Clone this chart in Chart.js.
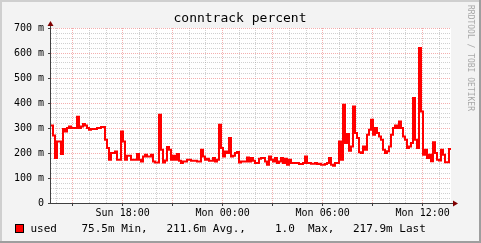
<!DOCTYPE html>
<html>
<head>
<meta charset="utf-8">
<title>conntrack percent</title>
<script src="https://cdn.jsdelivr.net/npm/chart.js@4.4.1/dist/chart.umd.min.js"></script>
<style>
    html, body { margin: 0; padding: 0; background: #f3f3f3; }
    canvas { display: block; }
</style>
</head>
<body>
<canvas id="rrdChart" width="481" height="243"></canvas>
<script>
// conntrack usage (in milli-units), one sample every 0.12 h
const startHour = 13.7;   // hours since Sun 00:00
const stepHours = 0.12;
const used = [
    310, 270, 180, 246, 246, 196, 296, 286, 300, 306,
    300, 300, 300, 345, 300, 306, 316, 310, 300, 293,
    296, 296, 296, 300, 300, 304, 304, 253, 220, 173,
    200, 200, 206, 173, 173, 286, 246, 173, 189, 189,
    173, 173, 173, 196, 173, 166, 186, 193, 186, 186,
    193, 166, 162, 162, 353, 213, 162, 170, 224, 213,
    173, 189, 173, 196, 169, 160, 166, 166, 173, 173,
    169, 169, 169, 166, 166, 213, 186, 173, 177, 169,
    169, 180, 166, 173, 313, 220, 186, 206, 200, 260,
    186, 189, 200, 204, 162, 166, 166, 166, 182, 166,
    180, 169, 160, 160, 177, 180, 180, 166, 153, 186,
    173, 166, 180, 160, 166, 180, 160, 177, 153, 173,
    160, 160, 160, 160, 156, 156, 160, 186, 160, 160,
    157, 157, 160, 156, 157, 153, 153, 156, 160, 180,
    153, 149, 160, 160, 246, 173, 393, 240, 276, 209,
    226, 386, 280, 260, 203, 200, 226, 213, 273, 293,
    333, 273, 300, 280, 266, 253, 213, 200, 207, 226,
    273, 300, 310, 300, 326, 300, 266, 253, 220, 226,
    240, 420, 253, 220, 620, 366, 193, 213, 180, 193,
    167, 243, 200, 173, 170, 213, 193, 163, 163, 216
];

const xTickHours = [18, 24, 30, 36];
const xTickLabels = ['Sun 18:00', 'Mon 00:00', 'Mon 06:00', 'Mon 12:00'];
const yMax = 700;
const yMinorStep = 20;
const yMajorStep = 100;

const legendLabel = 'used';
const legendStats = ['75.5m Min,', '211.6m Avg.,', '1.0', 'Max,', '217.9m Last'];

const MONO = '"DejaVu Sans Mono", monospace';
const MAJOR_GRID = 'rgba(235, 110, 110, 0.55)';
const MINOR_GRID = 'rgba(150, 150, 150, 0.45)';
const AXIS = '#404040';
const ARROW = '#800000';

const endHour = startHour + used.length * stepHours;
const points = used.map((v, i) => ({ x: startHour + i * stepHours, y: v }));
points.push({ x: endHour, y: used[used.length - 1] });

const xGridHours = [];
for (let h = Math.ceil(startHour); h < endHour; h++) xGridHours.push(h);
const yGridValues = [];
for (let v = 0; v <= yMax; v += yMinorStep) yGridValues.push(v);

// rrdtool look: frame, white canvas, arrows, title, legend, watermark
const rrdFrame = {
    id: 'rrdFrame',
    beforeDraw(chart) {
        const { ctx, width, height, chartArea: a } = chart;
        ctx.save();
        ctx.fillStyle = '#f3f3f3';
        ctx.fillRect(0, 0, width, height);
        ctx.fillStyle = '#cfcfcf';
        ctx.fillRect(0, 0, width, 2);
        ctx.fillRect(0, 0, 2, height);
        ctx.fillStyle = '#9e9e9e';
        ctx.fillRect(0, height - 2, width, 2);
        ctx.fillRect(width - 2, 0, 2, height);
        ctx.fillStyle = '#ffffff';
        ctx.fillRect(a.left, a.top, a.right - a.left, a.bottom - a.top);
        ctx.restore();
    },
    afterDraw(chart) {
        const { ctx, chartArea: a } = chart;
        ctx.save();

        // axes
        ctx.strokeStyle = AXIS;
        ctx.lineWidth = 1;
        ctx.beginPath();
        ctx.moveTo(a.left - 0.5, a.bottom + 0.5);
        ctx.lineTo(a.right + 3, a.bottom + 0.5);
        ctx.moveTo(a.left - 0.5, a.bottom + 0.5);
        ctx.lineTo(a.left - 0.5, a.top - 3);
        ctx.stroke();

        // arrows
        ctx.fillStyle = ARROW;
        ctx.beginPath();
        ctx.moveTo(a.right + 2, a.bottom - 2.5);
        ctx.lineTo(a.right + 7, a.bottom + 0.5);
        ctx.lineTo(a.right + 2, a.bottom + 3.5);
        ctx.closePath();
        ctx.fill();
        ctx.beginPath();
        ctx.moveTo(a.left - 3.5, a.top - 2);
        ctx.lineTo(a.left - 0.5, a.top - 7);
        ctx.lineTo(a.left + 2.5, a.top - 2);
        ctx.closePath();
        ctx.fill();

        // title
        ctx.fillStyle = '#000';
        ctx.font = '13px ' + MONO;
        ctx.textAlign = 'center';
        ctx.textBaseline = 'middle';
        ctx.fillText('conntrack percent', 240, 19);

        // legend
        ctx.fillStyle = '#ff0000';
        ctx.fillRect(15, 224, 9, 9);
        ctx.strokeStyle = '#000';
        ctx.strokeRect(15.5, 224.5, 8, 8);
        ctx.fillStyle = '#000';
        ctx.font = '11px ' + MONO;
        ctx.textAlign = 'left';
        ctx.fillText(legendLabel, 30.5, 229);
        const statX = [81.5, 166.5, 275, 308, 353];
        legendStats.forEach((t, i) => ctx.fillText(t, statX[i], 229));

        // watermark
        ctx.translate(470, 5);
        ctx.rotate(Math.PI / 2);
        ctx.fillStyle = '#a8a8a8';
        ctx.font = '8px ' + MONO;
        ctx.textBaseline = 'middle';
        ctx.fillText('RRDTOOL / TOBI OETIKER', 0, 0);

        ctx.restore();
    }
};

const isMajorY = v => v % yMajorStep === 0;
const isMajorX = v => v % 3 === 0;

new Chart(document.getElementById('rrdChart').getContext('2d'), {
    type: 'line',
    data: {
        datasets: [{
            label: legendLabel,
            data: points,
            borderColor: '#ff0000',
            borderWidth: 2,
            stepped: true,
            pointRadius: 0,
            fill: false
        }]
    },
    options: {
        responsive: false,
        animation: false,
        devicePixelRatio: 1,
        layout: { padding: { top: 28, right: 30, bottom: 0, left: 0 } },
        plugins: {
            legend: { display: false },
            tooltip: { enabled: false }
        },
        scales: {
            x: {
                type: 'linear',
                min: startHour,
                max: endHour,
                afterBuildTicks: s => { s.ticks = xGridHours.map(v => ({ value: v })); },
                afterFit: s => { s.height = 40; },
                grid: {
                    color: c => isMajorX(c.tick.value) ? MAJOR_GRID : MINOR_GRID,
                    tickColor: c => isMajorX(c.tick.value) ? AXIS : 'rgba(0,0,0,0)',
                    tickLength: 3,
                    lineWidth: 1
                },
                border: { display: false, dash: [1, 1] },
                ticks: {
                    autoSkip: false,
                    maxRotation: 0,
                    padding: 1,
                    color: '#000',
                    font: { family: MONO, size: 10 },
                    callback: v => {
                        const k = xTickHours.indexOf(v);
                        return k < 0 ? '' : xTickLabels[k];
                    }
                }
            },
            y: {
                type: 'linear',
                min: 0,
                max: yMax,
                afterBuildTicks: s => { s.ticks = yGridValues.map(v => ({ value: v })); },
                afterFit: s => { s.width = 51; },
                grid: {
                    color: c => isMajorY(c.tick.value) ? MAJOR_GRID : MINOR_GRID,
                    tickColor: c => isMajorY(c.tick.value) ? AXIS : 'rgba(0,0,0,0)',
                    tickLength: 3,
                    lineWidth: 1
                },
                border: { display: false, dash: [1, 1] },
                ticks: {
                    autoSkip: false,
                    padding: 4,
                    color: '#000',
                    font: { family: MONO, size: 10 },
                    callback: v => isMajorY(v) ? (v === 0 ? '0' : v + ' m') : ''
                }
            }
        }
    },
    plugins: [rrdFrame]
});
</script>
</body>
</html>
